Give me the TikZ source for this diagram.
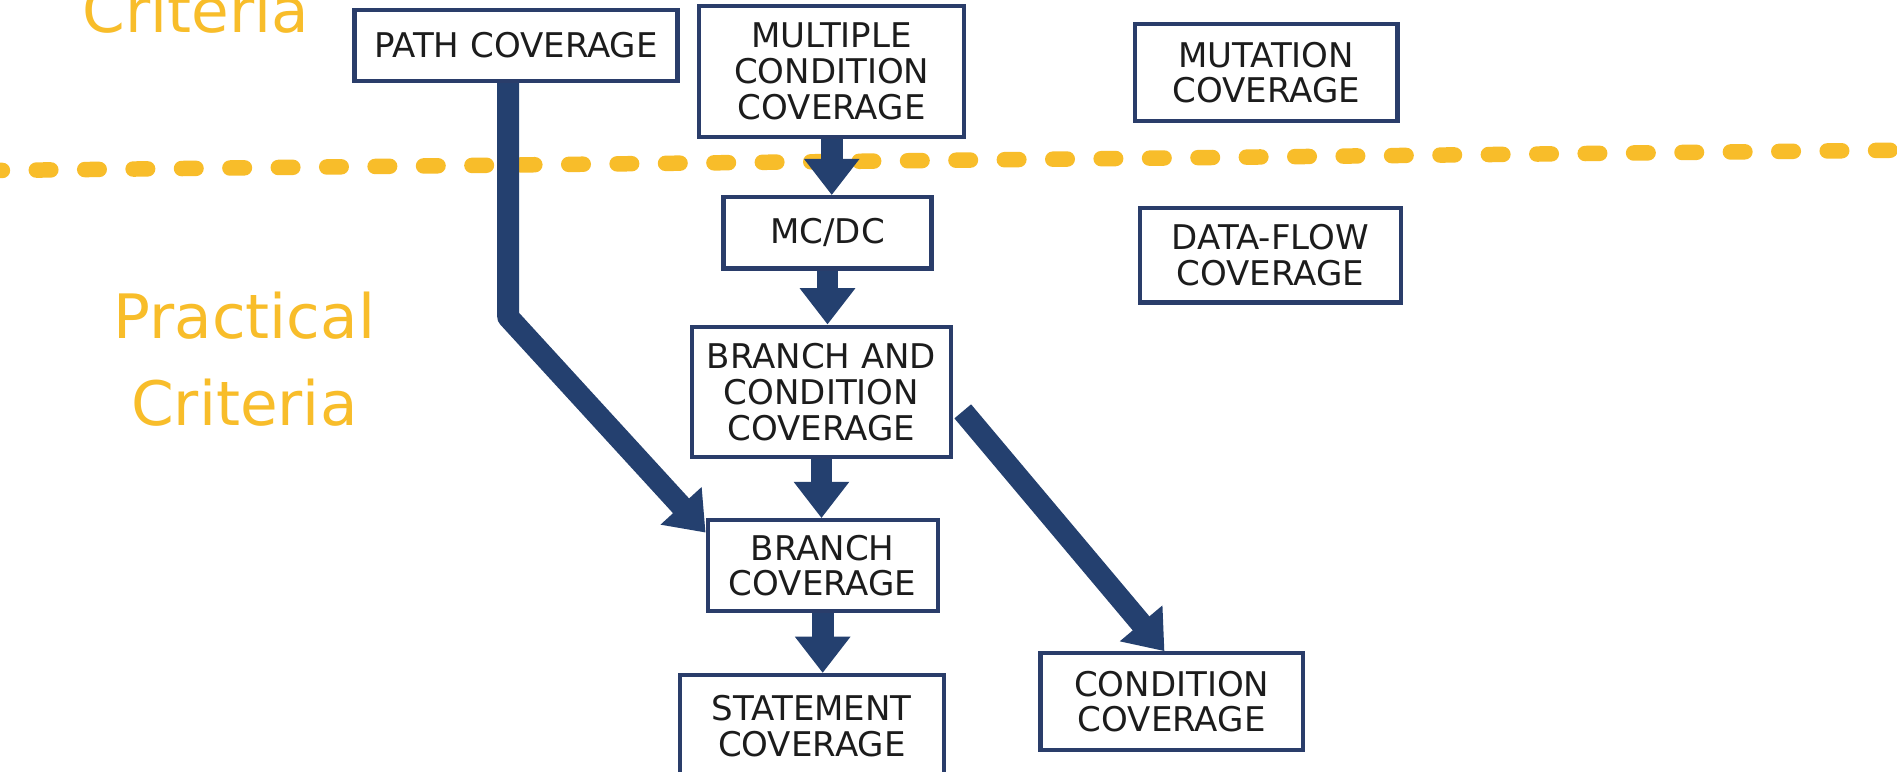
\documentclass[tikz,border=0pt]{standalone}
\usepackage{fontspec}
\setmainfont{DejaVu Sans}
\usetikzlibrary{arrows.meta}
\definecolor{navy}{HTML}{2A3D6A}
\definecolor{arrowblue}{HTML}{24406F}
\definecolor{marker}{HTML}{F8BD2A}
\definecolor{ink}{HTML}{1C1C1C}
\tikzset{
  box/.style={draw=navy, line width=2.5pt, fill=white, inner sep=0pt,
    align=center, text=ink, font=\fontsize{20}{21}\selectfont},
  bigarrow/.style={draw=arrowblue, line width=0.45cm, line join=round,
    -{Triangle[length=0.75cm,width=1.1cm]}},
  divider/.style={draw=marker, line width=0.32cm, line cap=round,
    dash pattern=on 0.3cm off 0.7cm},
  label/.style={text=marker, font=\fontsize{36}{40}\selectfont, anchor=base}
}
\begin{document}
\begin{tikzpicture}[x=0.025cm, y=-0.025cm]
  \useasboundingbox (0,0) rectangle (1568,638);
  \clip (0,0) rectangle (1568,638);
  \fill[white] (0,0) rectangle (1568,638);

  % level divider
  \coordinate (divL) at (-10,141);
  \coordinate (divR) at (1580,124);
  \draw[divider] (divL) -- (divR);

  % level labels
  \node[label] (critTop) at (162,27) {Criteria};
  \node[label] (practical) at (202,280) {Practical};
  \node[label] (critBot) at (202,352) {Criteria};

  % coverage criteria
  \node[box, minimum width=6.675cm, minimum height=1.475cm] (path) at (426.5,37.5) {PATH COVERAGE};
  \node[box, minimum width=5.475cm, minimum height=2.7cm] (mcc) at (687.5,59) {MULTIPLE\\CONDITION\\COVERAGE};
  \node[box, minimum width=5.425cm, minimum height=2.0cm] (mut) at (1046.5,60) {MUTATION\\COVERAGE};
  \node[box, minimum width=4.3cm, minimum height=1.475cm] (mcdc) at (684,192.5) {MC/DC};
  \node[box, minimum width=5.4cm, minimum height=1.95cm] (dfc) at (1050,211) {DATA-FLOW\\COVERAGE};
  \node[box, minimum width=5.35cm, minimum height=2.7cm] (bac) at (679,324) {BRANCH AND\\CONDITION\\COVERAGE};
  \node[box, minimum width=4.75cm, minimum height=1.875cm] (bc) at (680,467.5) {BRANCH\\COVERAGE};
  \node[box, minimum width=5.45cm, minimum height=2.1cm] (sc) at (671,600) {STATEMENT\\COVERAGE};
  \node[box, minimum width=5.425cm, minimum height=2.0cm] (cond) at (968.5,580) {CONDITION\\COVERAGE};

  % subsumption arrows
  \draw[bigarrow] (mcc.south) -- (mcc.south |- mcdc.north);
  \draw[bigarrow] (mcdc.south) -- (mcdc.south |- bac.north);
  \draw[bigarrow] (bac.south) -- (bac.south |- bc.north);
  \draw[bigarrow] (bc.south) -- (bc.south |- sc.north);
  \coordinate (bend) at (420,262);
  \draw[bigarrow] (path.south -| bend) -- (bend) -- ([yshift=-0.3cm]bc.north west);
  \draw[bigarrow] ([xshift=0.2cm,yshift=-0.4cm]bac.east) -- ([xshift=-0.15cm]cond.north);
\end{tikzpicture}
\end{document}
